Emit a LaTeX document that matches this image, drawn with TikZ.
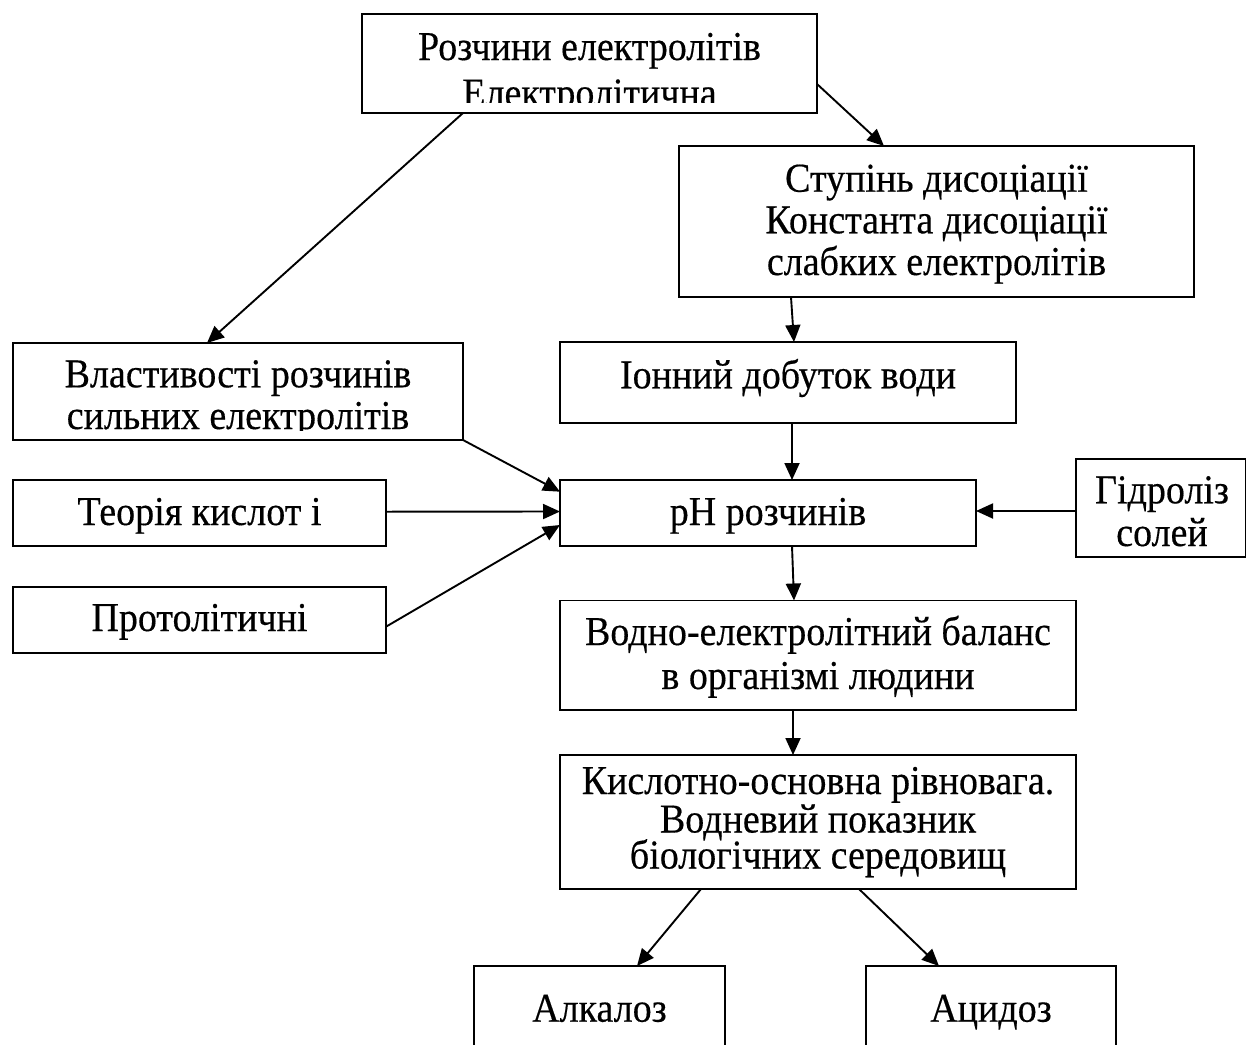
\documentclass[tikz,border=0pt]{standalone}
\usepackage{fontspec}
\setmainfont{Liberation Serif}[FakeBold=0.4]
\usetikzlibrary{arrows.meta,calc}
\newcommand{\vst}[1]{\scalebox{1}[1.08]{#1}}
\tikzset{
  box/.style={draw, line width=1.7pt, rectangle, inner sep=0pt, outer sep=0pt, anchor=north west},
  txt/.style={inner sep=0pt, outer sep=0pt, anchor=base, font=\fontsize{38}{44}\selectfont},
  conn/.style={line width=1.9pt, -{Triangle[length=17pt,width=15pt]}},
}
\begin{document}
\begin{tikzpicture}[x=1pt,y=-1pt]
\useasboundingbox (0,0) rectangle (1247,1044);
\clip (0,0) rectangle (1247,1044);
\fill[white] (0,0) rectangle (1247,1044);

% boxes
\node[box, minimum width=455pt, minimum height=99pt]   (top)   at (362,14) {};
\node[box, minimum width=515pt, minimum height=151pt]  (stup)  at (679,146) {};
\node[box, minimum width=450pt, minimum height=97pt]   (vlast) at (13,343) {};
\node[box, minimum width=456pt, minimum height=81pt]   (ion)   at (560,342) {};
\node[box, minimum width=373pt, minimum height=66pt]   (teor)  at (13,480) {};
\node[box, minimum width=416pt, minimum height=66pt]   (ph)    at (560,480) {};
\node[box, minimum width=169.5pt, minimum height=98pt] (gidr)  at (1076,459) {};
\node[box, minimum width=373pt, minimum height=66pt]   (prot)  at (13,587) {};
\node[box, minimum width=516pt, minimum height=109.5pt](vodno) at (560,600.5) {};
\node[box, minimum width=516pt, minimum height=134pt]  (kysl)  at (560,755) {};
\node[box, minimum width=251pt, minimum height=114pt]  (alk)   at (474,966) {};
\node[box, minimum width=250pt, minimum height=114pt]  (acid)  at (866,966) {};

% texts
\begin{scope}
  \clip (362,14) rectangle (817,102);
  \node[txt] (top1) at (589.5,60) {\vst{Розчини електролітів}};
  \node[txt] (top2) at (589.5,106.5) {\vst{Електролітична}};
\end{scope}
\node[txt] (stup1) at (936.5,191.7) {\vst{Ступінь дисоціації}};
\node[txt] (stup2) at (936.5,233.3) {\vst{Константа дисоціації}};
\node[txt] (stup3) at (936.5,275) {\vst{слабких електролітів}};
\begin{scope}
  \clip (13,343) rectangle (463,430.5);
  \node[txt] (vlast1) at (238,387.3) {\vst{Властивості розчинів}};
  \node[txt] (vlast2) at (238,429) {\vst{сильних електролітів}};
\end{scope}
\node[txt] (ion1)  at (788,388.3) {\vst{Іонний добуток води}};
\node[txt] (teor1) at (199.5,525) {\vst{Теорія кислот і}};
\node[txt] (ph1)   at (768,525) {\vst{pH розчинів}};
\node[txt] (gidr1) at (1162,503.3) {\vst{Гідроліз}};
\node[txt] (gidr2) at (1162,546) {\vst{солей}};
\node[txt] (prot1) at (199.5,631) {\vst{Протолітичні}};
\node[txt] (vodno1) at (818,645) {\vst{Водно-електролітний баланс}};
\node[txt] (vodno2) at (818,689) {\vst{в організмі людини}};
\node[txt] (kysl1) at (818,794) {\vst{Кислотно-основна рівновага.}};
\node[txt] (kysl2) at (818,832.5) {\vst{Водневий показник}};
\node[txt] (kysl3) at (818,868.5) {\vst{біологічних середовищ}};
\node[txt] (alk1)  at (599.5,1021.7) {\vst{Алкалоз}};
\node[txt] (acid1) at (991,1021.7) {\vst{Ацидоз}};

% connectors
\draw[conn] ($(top.south west)+(101,0)$) -- ($(vlast.north west)+(194,0)$);
\draw[conn] ($(top.north east)+(0,70)$) -- ($(stup.north west)+(205,0)$);
\draw[conn] ($(stup.south west)+(112,0)$) -- ($(ion.north west)+(234,0)$);
\draw[conn] ($(ion.south west)+(232,0)$) -- ($(ph.north west)+(232,0)$);
\draw[conn] (vlast.south east) -- ($(ph.north west)+(0,11.7)$);
\draw[conn] ($(teor.north east)+(0,31.7)$) -- ($(ph.north west)+(0,31.5)$);
\draw[conn] ($(prot.north east)+(0,39.7)$) -- ($(ph.north west)+(0,45)$);
\draw[conn] ($(gidr.north west)+(0,52)$) -- ($(ph.north east)+(0,31)$);
\draw[conn] ($(ph.south west)+(232,0)$) -- ($(vodno.north west)+(234,0)$);
\draw[conn] ($(vodno.south west)+(233,0)$) -- ($(kysl.north west)+(233,0)$);
\draw[conn] ($(kysl.south west)+(141,0)$) -- ($(alk.north west)+(163,0)$);
\draw[conn] ($(kysl.south west)+(299,0)$) -- ($(acid.north west)+(73,0)$);
\end{tikzpicture}
\end{document}
